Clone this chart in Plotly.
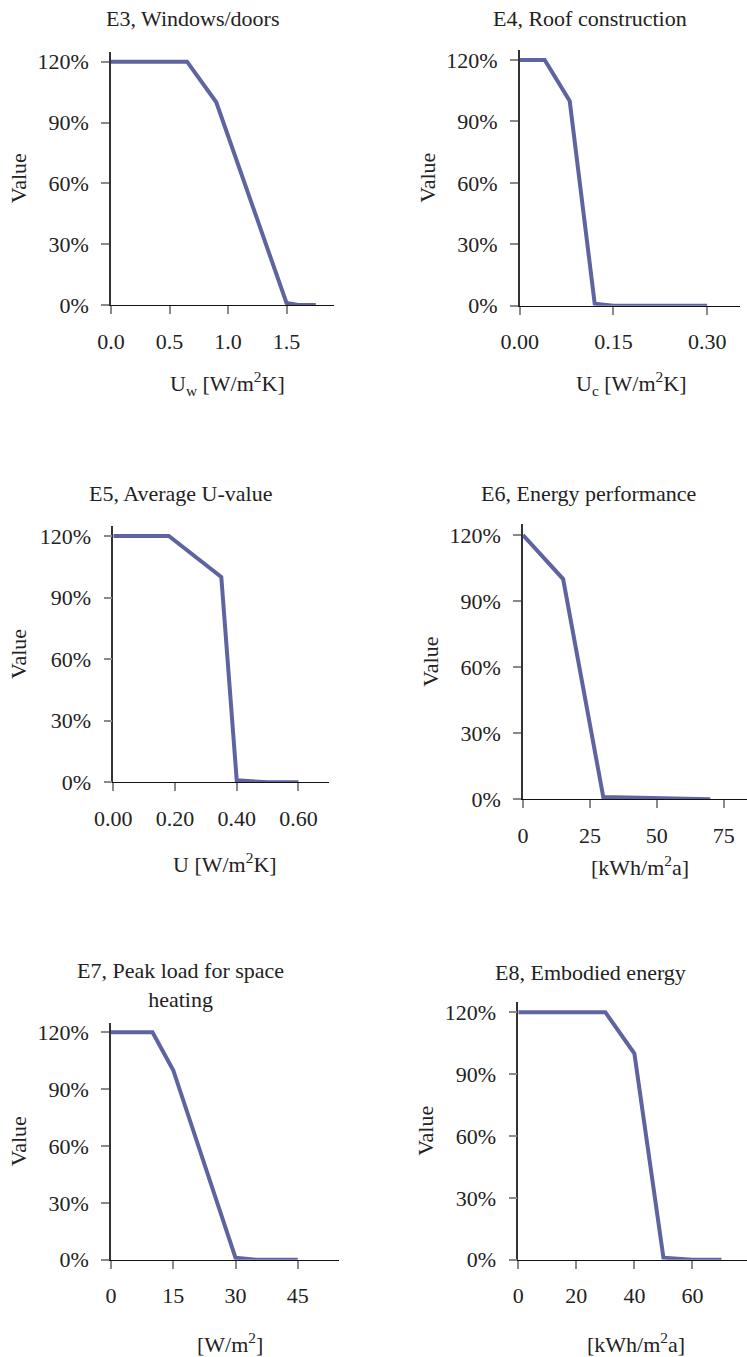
import plotly.graph_objects as go

# ---------------- data ----------------
titles = ["E3, Windows/doors", "E4, Roof construction", "E5, Average U-value",
          "E6, Energy performance", "E7, Peak load for space<br>heating", "E8, Embodied energy"]
x_titles = ["U<sub>w</sub> [W/m<sup>2</sup>K]", "U<sub>c</sub> [W/m<sup>2</sup>K]", "U [W/m<sup>2</sup>K]",
            "[kWh/m<sup>2</sup>a]", "[W/m<sup>2</sup>]", "[kWh/m<sup>2</sup>a]"]

e3_x = [0, 0.65, 0.9, 1.5, 1.6, 1.75]
e3_y = [120, 120, 100, 1, 0, 0]
e4_x = [0, 0.04, 0.08, 0.12, 0.15, 0.30]
e4_y = [120, 120, 100, 1, 0, 0]
e5_x = [0, 0.18, 0.35, 0.40, 0.50, 0.60]
e5_y = [120, 120, 100, 1, 0, 0]
e6_x = [0, 15, 30, 60, 70]
e6_y = [120, 100, 1, 0, 0]
e7_x = [0, 10, 15, 30, 35, 45]
e7_y = [120, 120, 100, 1, 0, 0]
e8_x = [0, 30, 40, 50, 60, 70]
e8_y = [120, 120, 100, 1, 0, 0]

y_ticks = [0, 30, 60, 90, 120]
y_tick_labels = ["0%", "30%", "60%", "90%", "120%"]
e3_ticks = [0.0, 0.5, 1.0, 1.5]
e4_ticks = [0.00, 0.15, 0.30]
e5_ticks = [0.00, 0.20, 0.40, 0.60]
e6_ticks = [0, 25, 50, 75]
e7_ticks = [0, 15, 30, 45]
e8_ticks = [0, 20, 40, 60]

series_x = [e3_x, e4_x, e5_x, e6_x, e7_x, e8_x]
series_y = [e3_y, e4_y, e5_y, e6_y, e7_y, e8_y]
tick_sets = [e3_ticks, e4_ticks, e5_ticks, e6_ticks, e7_ticks, e8_ticks]

# ---------------- layout geometry (pixels) ----------------
W, H = 747, 1357
FONT = "Liberation Serif"
LINE = "#5f63a0"

# (x_left, x_right, y_zero_px, px_per_unit_y, x_max_range, tickformat)
panels = [
    (111, 334, 305.0, 2.0275, 1.906, ".1f"),
    (519.7, 739.7, 305.7, 2.0475, 0.352, ".2f"),
    (113.3, 329.3, 782.3, 2.0525, 0.70, ".2f"),
    (523, 747, 799.3, 2.2025, 83.7, "d"),
    (111, 339.3, 1259.7, 1.895, 55, "d"),
    (518.3, 747, 1259.7, 2.0617, 78.8, "d"),
]
YMAX = 125

title_pos = [(193, 18), (590, 18), (180, 493), (588, 493), (180, 985), (590, 972)]
xtitle_pos = [(227, 383), (631, 383), (225, 863), (640, 866), (230, 1343), (636, 1343)]
ytitle_x = [18, 428, 18, 431, 18, 426]

fig = go.Figure()
annotations = []
for i in range(6):
    xl, xr, y0, s, xmax, tf = panels[i]
    ytop = y0 - YMAX * s
    ax = "" if i == 0 else str(i + 1)
    fig.add_trace(go.Scatter(x=series_x[i], y=series_y[i], mode="lines",
                             line=dict(color=LINE, width=4),
                             xaxis="x" + ax, yaxis="y" + ax, showlegend=False,
                             hoverinfo="skip"))
    fig.update_layout(**{
        "xaxis" + ax: dict(domain=[xl / W, min(xr / W, 1)], range=[0, xmax],
                           anchor="y" + ax, tickvals=tick_sets[i], tickformat=tf,
                           automargin=False,
                           showgrid=False, zeroline=False, showline=True,
                           linecolor="#111", linewidth=1.2,
                           ticks="outside", ticklen=8, tickwidth=2, tickcolor="#8a8a8a",
                           ticklabelstandoff=8,
                           tickfont=dict(family=FONT, size=22, color="#222")),
        "yaxis" + ax: dict(domain=[1 - y0 / H, 1 - ytop / H], range=[0, YMAX],
                           anchor="x" + ax, tickvals=y_ticks, ticktext=y_tick_labels,
                           automargin=False,
                           showgrid=False, zeroline=False, showline=True,
                           linecolor="#333", linewidth=1.5,
                           ticks="outside", ticklen=8, tickwidth=2, tickcolor="#8a8a8a",
                           ticklabelstandoff=8,
                           tickfont=dict(family=FONT, size=22, color="#222")),
    })
    tx, ty = title_pos[i]
    annotations.append(dict(text=titles[i], x=tx / W, y=1 - ty / H, xref="paper", yref="paper",
                            showarrow=False, xanchor="center", yanchor="middle",
                            font=dict(family=FONT, size=22, color="#222")))
    xx, xy = xtitle_pos[i]
    annotations.append(dict(text=x_titles[i], x=xx / W, y=1 - xy / H, xref="paper", yref="paper",
                            showarrow=False, xanchor="center", yanchor="middle",
                            font=dict(family=FONT, size=22, color="#222")))
    annotations.append(dict(text="Value", x=ytitle_x[i] / W, y=1 - (y0 + ytop) / 2 / H,
                            xref="paper", yref="paper", showarrow=False, textangle=-90,
                            xanchor="center", yanchor="middle",
                            font=dict(family=FONT, size=22, color="#222")))

fig.update_layout(width=W, height=H, margin=dict(l=0, r=0, t=0, b=0, autoexpand=False),
                  paper_bgcolor="white", plot_bgcolor="white",
                  annotations=annotations)
fig.write_html("out.html", config={"displayModeBar": False},
               post_script="document.documentElement.style.margin='0';"
                           "document.body.style.margin='0';"
                           "document.body.style.overflow='hidden';")
